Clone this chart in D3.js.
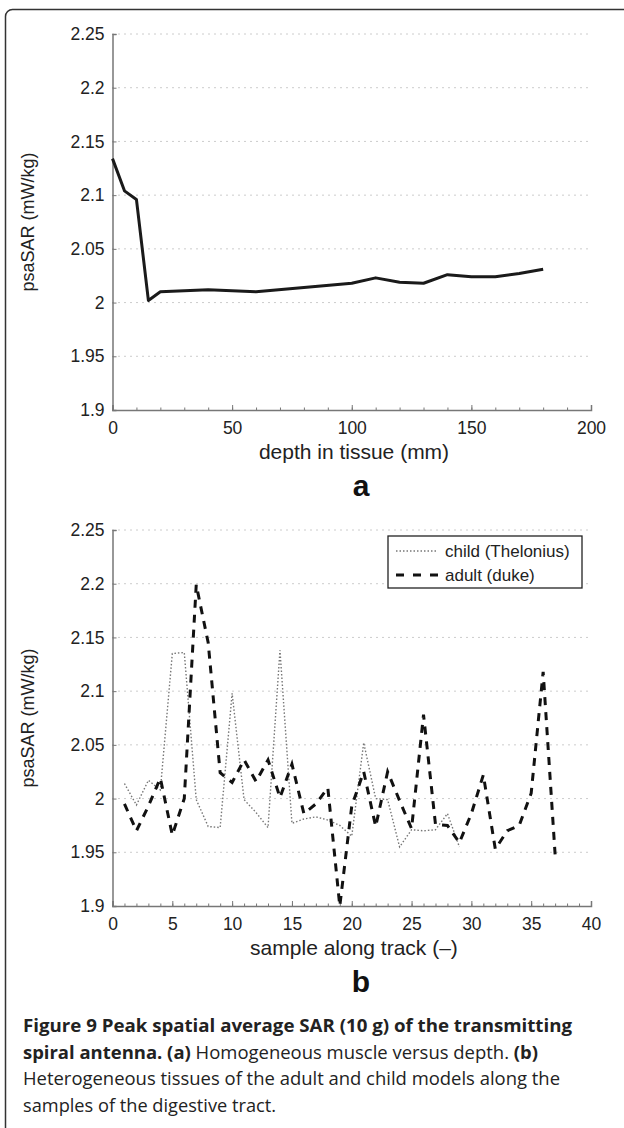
<!DOCTYPE html>
<html>
<head>
<meta charset="utf-8">
<script src="https://cdn.jsdelivr.net/npm/d3@7"></script>
<style>
  body { margin: 0; background: #fff; }
  svg { display: block; }
  .tick text { font-family: "Liberation Sans", Arial, sans-serif; }
</style>
</head>
<body>
<svg id="fig" width="624" height="1128"></svg>
<script>
// panel a: homogeneous muscle vs depth
const depth = [0, 5, 10, 15, 20, 40, 60, 80, 100, 110, 120, 130, 140, 150, 160, 170, 180];
const sarDepth = [2.134, 2.104, 2.096, 2.002, 2.010, 2.012, 2.010, 2.014, 2.018, 2.023, 2.019, 2.018, 2.026, 2.024, 2.024, 2.027, 2.031];

// panel b: samples along the digestive tract
const childSamples = [1, 2, 3, 4, 5, 6, 7, 8, 9, 10, 11, 12, 13, 14, 15, 16, 17, 18, 19, 20, 21, 22, 23, 24, 25, 26, 27, 28, 29];
const childSar = [2.014, 1.994, 2.017, 2.008, 2.135, 2.136, 1.999, 1.974, 1.973, 2.098, 1.999, 1.987, 1.973, 2.138,
                  1.977, 1.981, 1.983, 1.980, 1.975, 1.965, 2.052, 2.000, 1.999, 1.955, 1.971, 1.970, 1.971, 1.986, 1.955];
const adultSamples = [1, 2, 3, 4, 5, 6, 7, 8, 9, 10, 11, 12, 13, 14, 15, 16, 17, 18, 19, 20, 21, 22, 23, 24, 25, 26, 27, 28, 29, 30, 31, 32, 33, 34, 35, 36, 37];
const adultSar = [1.995, 1.970, 1.993, 2.019, 1.966, 2.000, 2.199, 2.145, 2.024, 2.015, 2.036, 2.016, 2.036, 2.001,
                  2.032, 1.986, 1.995, 2.010, 1.900, 1.993, 2.025, 1.974, 2.025, 1.998, 1.972, 2.078, 1.976, 1.975,
                  1.959, 1.986, 2.022, 1.953, 1.970, 1.975, 2.005, 2.118, 1.948];

const yTicks = [1.9, 1.95, 2, 2.05, 2.1, 2.15, 2.2, 2.25];
const xTicksA = [0, 50, 100, 150, 200];
const xTicksB = [0, 5, 10, 15, 20, 25, 30, 35, 40];
const legendLabels = ["child (Thelonius)", "adult (duke)"];

const font = '"Liberation Sans", Arial, Helvetica, sans-serif';
const left = 112.5, right = 591;

const svg = d3.select("#fig");

// card frame
svg.append("rect")
    .attr("x", 5.5).attr("y", 9.5)
    .attr("width", 660).attr("height", 1200)
    .attr("rx", 7)
    .attr("fill", "none")
    .attr("stroke", "#333")
    .attr("stroke-width", 1.5);

function drawPanel(top, bottom, xDomain, xTicks, minorStep, xLabel, letter) {
    const x = d3.scaleLinear().domain(xDomain).range([left, right]);
    const y = d3.scaleLinear().domain([1.9, 2.25]).range([bottom, top]);
    const g = svg.append("g");

    // dotted horizontal grid
    g.append("g")
        .selectAll("line")
        .data(yTicks.slice(1))
        .join("line")
        .attr("x1", left).attr("x2", right)
        .attr("y1", d => y(d)).attr("y2", d => y(d))
        .attr("stroke", "#999")
        .attr("stroke-width", 1)
        .attr("stroke-dasharray", "1,5");

    // y axis
    const ya = g.append("g")
        .attr("transform", "translate(" + left + ",0)")
        .call(d3.axisLeft(y).tickValues(yTicks).tickSize(-4).tickPadding(8)
            .tickFormat(d3.format("")));
    ya.select(".domain").attr("stroke", "#777").attr("stroke-width", 1.5);
    ya.selectAll(".tick line").attr("stroke", "#777");
    ya.selectAll(".tick text").attr("font-size", 17.5).attr("fill", "#222");

    // x axis with minor ticks
    const minor = d3.range(xDomain[0], xDomain[1] + minorStep / 2, minorStep);
    const xm = g.append("g")
        .attr("transform", "translate(0," + bottom + ")")
        .call(d3.axisBottom(x).tickValues(minor).tickSize(-2.5).tickFormat(""));
    xm.select(".domain").remove();
    xm.selectAll(".tick line").attr("stroke", "#777");

    const xa = g.append("g")
        .attr("transform", "translate(0," + bottom + ")")
        .call(d3.axisBottom(x).tickValues(xTicks).tickSize(-5).tickPadding(12)
            .tickFormat(d3.format("")));
    xa.select(".domain").attr("stroke", "#777").attr("stroke-width", 1.5);
    xa.selectAll(".tick line").attr("stroke", "#777");
    xa.selectAll(".tick text").attr("font-size", 17.5).attr("fill", "#222");

    // axis titles
    g.append("text")
        .attr("transform", "translate(34," + ((top + bottom) / 2) + ") rotate(-90)")
        .attr("text-anchor", "middle")
        .attr("font-family", font)
        .attr("font-size", 18)
        .attr("fill", "#222")
        .text("psaSAR (mW/kg)");

    g.append("text")
        .attr("x", 354)
        .attr("y", bottom + 49)
        .attr("text-anchor", "middle")
        .attr("font-family", font)
        .attr("font-size", 21)
        .attr("fill", "#222")
        .text(xLabel);

    g.append("text")
        .attr("x", 361)
        .attr("y", bottom + 86)
        .attr("text-anchor", "middle")
        .attr("font-family", font)
        .attr("font-size", 30)
        .attr("font-weight", "bold")
        .attr("fill", "#111")
        .text(letter);

    return { x: x, y: y, g: g };
}

// ---- panel a
const pa = drawPanel(34, 410, [0, 200], xTicksA, 10, "depth in tissue (mm)", "a");
const lineA = d3.line().x(d => pa.x(d[0])).y(d => pa.y(d[1]));
pa.g.append("path")
    .datum(d3.zip(depth, sarDepth))
    .attr("d", lineA)
    .attr("fill", "none")
    .attr("stroke", "#1a1a1a")
    .attr("stroke-width", 3)
    .attr("stroke-linejoin", "round");

// ---- panel b
const pb = drawPanel(530, 906, [0, 40], xTicksB, 1, "sample along track (\u2013)", "b");
const lineB = d3.line().x(d => pb.x(d[0])).y(d => pb.y(d[1]));

pb.g.append("path")
    .datum(d3.zip(childSamples, childSar))
    .attr("d", lineB)
    .attr("fill", "none")
    .attr("stroke", "#777")
    .attr("stroke-width", 1.4)
    .attr("stroke-dasharray", "1.5,2");

pb.g.append("path")
    .datum(d3.zip(adultSamples, adultSar))
    .attr("d", lineB)
    .attr("fill", "none")
    .attr("stroke", "#111")
    .attr("stroke-width", 3)
    .attr("stroke-dasharray", "8,7");

// legend
const lg = pb.g.append("g").attr("transform", "translate(388,536)");
lg.append("rect")
    .attr("width", 194).attr("height", 52)
    .attr("fill", "#fff")
    .attr("stroke", "#222")
    .attr("stroke-width", 1.3);
const styles = [
    { stroke: "#777", width: 1.4, dash: "1.5,2" },
    { stroke: "#111", width: 3, dash: "8,9" }
];
legendLabels.forEach(function (label, i) {
    const cy = 15 + i * 24;
    lg.append("line")
        .attr("x1", 8).attr("x2", 50)
        .attr("y1", cy).attr("y2", cy)
        .attr("stroke", styles[i].stroke)
        .attr("stroke-width", styles[i].width)
        .attr("stroke-dasharray", styles[i].dash);
    lg.append("text")
        .attr("x", 57).attr("y", cy + 6)
        .attr("font-family", font)
        .attr("font-size", 17)
        .attr("fill", "#222")
        .text(label);
});

// caption
const capFont = '"Open Sans", Lato, sans-serif';
const caption = [
    [["Figure 9 Peak spatial average SAR (10 g) of the transmitting", true]],
    [["spiral antenna. (a)", true], [" Homogeneous muscle versus depth. ", false], ["(b)", true]],
    [["Heterogeneous tissues of the adult and child models along the", false]],
    [["samples of the digestive tract.", false]]
];
const captionWidths = [549, 515, 537, 253];
caption.forEach(function (parts, i) {
    const t = svg.append("text")
        .attr("x", 23)
        .attr("y", 1032 + i * 26.7)
        .attr("font-family", capFont)
        .attr("font-size", 17.5)
        .attr("fill", "#222")
        .attr("textLength", captionWidths[i])
        .attr("lengthAdjust", "spacingAndGlyphs");
    parts.forEach(function (p) {
        t.append("tspan")
            .attr("font-weight", p[1] ? "bold" : "normal")
            .text(p[0]);
    });
});
</script>
</body>
</html>
